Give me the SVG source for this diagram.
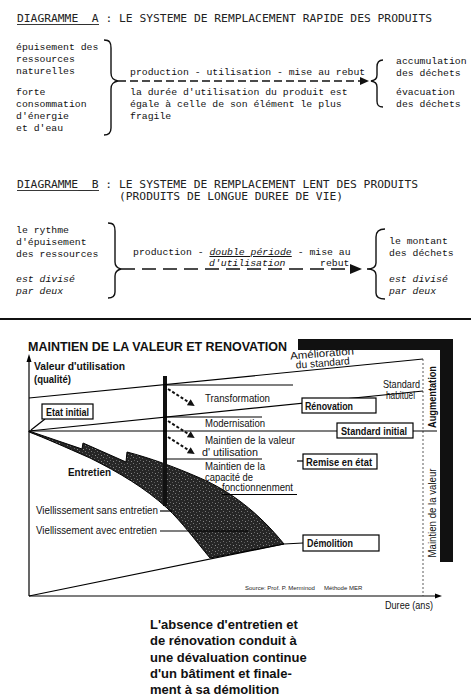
<svg xmlns="http://www.w3.org/2000/svg" width="471" height="699" viewBox="0 0 471 699">
<defs>
<style>
.tt{font-family:"DejaVu Sans Mono","Liberation Mono",monospace;font-size:11.3px;fill:#222}
.tw{font-family:"Liberation Mono","DejaVu Sans Mono",monospace;font-size:9.8px;fill:#111}
.it{font-style:italic}
.ln{stroke:#000;fill:none;stroke-width:1.2}
.br{stroke:#111;fill:none;stroke-width:1.4}
.c{font-family:"Liberation Sans Narrow","Liberation Sans",Arial,sans-serif;fill:#111;font-size:10.5px}
.cb{font-weight:bold}
.box{fill:#fff;stroke:#000;stroke-width:1.2}
.cap{font-family:"Liberation Sans",Arial,sans-serif;font-weight:bold;font-size:13px;fill:#111}
.dash{stroke:#111;stroke-width:1.5;fill:none}
.darr{stroke:#111;stroke-width:2;stroke-dasharray:3 2;fill:none}
.src{font-family:"Liberation Sans Narrow","Liberation Sans",Arial,sans-serif;fill:#222;font-size:6px}
</style>
<marker id="ah" viewBox="0 0 10 10" refX="2" refY="5" markerWidth="8" markerHeight="7" markerUnits="userSpaceOnUse" orient="auto">
<path d="M0,0 L10,5 L0,10 Z" fill="#111"/>
</marker>
<pattern id="speck" width="6" height="6" patternUnits="userSpaceOnUse">
<rect width="6" height="6" fill="#262626"/>
<rect x="1" y="1" width="1" height="1" fill="#777"/>
<rect x="4" y="2" width="1" height="1" fill="#5a5a5a"/>
<rect x="2" y="4" width="1" height="1" fill="#666"/>
<rect x="5" y="5" width="1" height="1" fill="#888"/>
</pattern>
</defs>
<rect width="471" height="699" fill="#fff"/>

<!-- Diagram A -->
<g id="titleA">
<text class="tt" x="17" y="22" textLength="415" lengthAdjust="spacingAndGlyphs">DIAGRAMME__A : LE SYSTEME DE REMPLACEMENT RAPIDE DES PRODUITS</text>
<line x1="17" y1="24.5" x2="99" y2="24.5" stroke="#222" stroke-width="0.9"/>
</g>
<g id="A-left">
<text class="tw" x="16" y="50">épuisement des</text>
<text class="tw" x="16" y="62">ressources</text>
<text class="tw" x="16" y="74">naturelles</text>
<text class="tw" x="16" y="95">forte</text>
<text class="tw" x="16" y="107">consommation</text>
<text class="tw" x="16" y="119">d'énergie</text>
<text class="tw" x="16" y="131">et d'eau</text>
</g>
<g id="A-middle">
<text class="tw" x="130" y="75">production - utilisation - mise au rebut</text>
<text class="tw" x="130" y="95">la durée d'utilisation du produit est</text>
<text class="tw" x="130" y="107">égale à celle de son élément le plus</text>
<text class="tw" x="130" y="119">fragile</text>
</g>
<g id="A-right">
<text class="tw" x="396" y="64">accumulation</text>
<text class="tw" x="396" y="76">des déchets</text>
<text class="tw" x="396" y="95">évacuation</text>
<text class="tw" x="396" y="107">des déchets</text>
</g>

<!-- Diagram B -->
<g id="titleB">
<text class="tt" x="17" y="188" textLength="401" lengthAdjust="spacingAndGlyphs">DIAGRAMME__B : LE SYSTEME DE REMPLACEMENT LENT DES PRODUITS</text>
<text class="tt" x="119" y="200" textLength="224" lengthAdjust="spacingAndGlyphs">(PRODUITS DE LONGUE DUREE DE VIE)</text>
<line x1="17" y1="190.5" x2="99" y2="190.5" stroke="#222" stroke-width="0.9"/>
</g>
<g id="B-left">
<text class="tw" x="16" y="233">le rythme</text>
<text class="tw" x="16" y="245">d'épuisement</text>
<text class="tw" x="16" y="257">des ressources</text>
<text class="tw it" x="16" y="282">est divisé</text>
<text class="tw it" x="16" y="294">par deux</text>
</g>
<g id="B-middle">
<text class="tw" x="133" y="255">production - <tspan class="it" text-decoration="underline">double période</tspan> - mise au</text>
<text class="tw it" x="209" y="266">d'utilisation</text>
<text class="tw" x="320" y="266">rebut</text>
</g>
<g id="B-right">
<text class="tw" x="389" y="244">le montant</text>
<text class="tw" x="389" y="256">des déchets</text>
<text class="tw it" x="389" y="282">est divisé</text>
<text class="tw it" x="389" y="294">par deux</text>
</g>

<g id="connectors-top">
<path class="br" d="M104,40 C110,40 111,43 111,48 L111,73 C111,78 113,80 118,81 C113,82 111,84 111,89 L111,128 C111,133 109,135 104,135"/>
<path class="br" d="M383,60 C378,60 377,63 377,67 L377,75 C377,79 375,80 371,81 C375,82 377,83 377,87 L377,101 C377,105 378,107 383,107"/>
<line class="dash" x1="118" y1="81" x2="361" y2="81" stroke-dasharray="8 4"/>
<polygon points="360,77 369,81 360,85" fill="#111"/>
<path class="br" d="M108,223 C114,223 115,226 115,231 L115,262 C115,266 117,268 121,269 C117,270 115,272 115,276 L115,292 C115,296 113,298 108,298"/>
<path class="br" d="M385,229 C379,229 376,232 376,237 L376,263 C376,267 372,269 367,269 C372,269 376,271 376,275 L376,293 C376,297 379,299 385,299"/>
<line class="dash" x1="121" y1="269" x2="352" y2="269" stroke-dasharray="14 7"/>
<polygon points="350,264 362,269 350,274" fill="#111"/>
</g>

<line x1="0" y1="319" x2="471" y2="319" stroke="#111" stroke-width="2"/>

<!-- Chart -->
<g id="chart-title">
<text x="28" y="351" font-family="Liberation Sans, Arial, sans-serif" font-weight="bold" font-size="12.5" fill="#111" textLength="259" lengthAdjust="spacingAndGlyphs">MAINTIEN DE LA VALEUR ET RENOVATION</text>
<rect x="298" y="339" width="155" height="11" fill="#111"/>
<rect x="440" y="339" width="13" height="223" fill="#111"/>
</g>

<g id="axes">
<line class="ln" x1="29" y1="596" x2="29" y2="360" stroke-width="1.4"/>
<polygon points="26.5,362 29,354 31.5,362" fill="#000"/>
<line class="ln" x1="29" y1="596" x2="436" y2="596" stroke-width="1.6"/>
<polygon points="435,593.5 442,596 435,598.5" fill="#000"/>
<line x1="423" y1="359" x2="423" y2="596" stroke="#333" stroke-width="0.8" stroke-dasharray="2 2"/>
<text class="c cb" x="34" y="370" font-size="11" textLength="91" lengthAdjust="spacingAndGlyphs">Valeur d'utilisation</text>
<text class="c cb" x="34" y="383" font-size="11" textLength="37" lengthAdjust="spacingAndGlyphs">(qualité)</text>
<text class="c" x="385" y="609" font-size="10.5" textLength="48" lengthAdjust="spacingAndGlyphs">Duree (ans)</text>
</g>

<g id="band">
<path d="M29,431 L82,449 L83,443 L126,462 L127,452 C150,458 175,467 200,478 C230,491 258,512 284,544 L210,558 C195,540 182,522 167,508 C145,488 120,473 90,458 C65,447 45,438 29,432 Z" fill="url(#speck)" stroke="#000" stroke-width="1"/>
<rect x="163" y="376" width="4" height="130" fill="#111"/>
</g>

<g id="connectors">
<line class="ln" x1="29" y1="398" x2="423" y2="359"/>
<line class="ln" x1="29" y1="431" x2="423" y2="391"/>
<line class="ln" x1="29" y1="431" x2="437" y2="431"/>
<line class="ln" x1="166" y1="385" x2="293" y2="385"/>
<line class="ln" x1="166" y1="417" x2="262" y2="417"/>
<line class="ln" x1="166" y1="459" x2="262" y2="459"/>
<line class="ln" x1="222" y1="494.5" x2="297" y2="494.5"/>
<line class="ln" x1="297" y1="461" x2="303" y2="461"/>
<line class="ln" x1="31" y1="430" x2="45" y2="419" stroke-width="0.9"/>
<polyline class="ln" points="29,596 284,544 303,543"/>
<line class="ln" x1="160" y1="511" x2="172" y2="511" stroke-width="0.9"/>
<line class="ln" x1="160" y1="531" x2="248" y2="531" stroke-width="0.9"/>
<path class="darr" d="M168,389 L190,403" marker-end="url(#ah)"/>
<path class="darr" d="M168,421 L190,435" marker-end="url(#ah)"/>
<path class="darr" d="M168,437 L190,451" marker-end="url(#ah)"/>
</g>

<g id="etat-initial">
<rect class="box" x="42" y="404" width="51" height="15"/>
<text class="c cb" x="46" y="415.5" font-size="11" textLength="43" lengthAdjust="spacingAndGlyphs">Etat initial</text>
</g>
<g id="amelioration">
<g transform="rotate(-4.5 323 366)">
<text class="c" x="291" y="357" font-size="10" textLength="64" lengthAdjust="spacingAndGlyphs">Amélioration</text>
<text class="c" x="296" y="366.5" font-size="10" textLength="54" lengthAdjust="spacingAndGlyphs">du standard</text>
</g>
</g>
<g id="standard-habituel">
<text class="c" x="383" y="388" font-size="10" textLength="37" lengthAdjust="spacingAndGlyphs">Standard</text>
<text class="c" x="386" y="399" font-size="10" textLength="29" lengthAdjust="spacingAndGlyphs">habituel</text>
</g>
<g id="labels-mid">
<text class="c" x="205" y="402" textLength="65" lengthAdjust="spacingAndGlyphs">Transformation</text>
<text class="c" x="205" y="427" textLength="60" lengthAdjust="spacingAndGlyphs">Modernisation</text>
<text class="c" x="205" y="444" font-size="10" textLength="90" lengthAdjust="spacingAndGlyphs">Maintien de la valeur</text>
<text class="c" x="202" y="456" font-size="10" textLength="56" lengthAdjust="spacingAndGlyphs">d' utilisation</text>
<text class="c" x="205" y="470" font-size="8.8" textLength="60" lengthAdjust="spacingAndGlyphs">Maintien de la</text>
<text class="c" x="205" y="480.5" font-size="8.8" textLength="48" lengthAdjust="spacingAndGlyphs">capacité de</text>
<text class="c" x="222" y="491" font-size="8.8" textLength="71" lengthAdjust="spacingAndGlyphs">fonctionnenment</text>
</g>
<g id="renovation">
<rect class="box" x="302" y="398" width="74" height="15"/>
<text class="c cb" x="305" y="409.5" font-size="11" textLength="48" lengthAdjust="spacingAndGlyphs">Rénovation</text>
</g>
<g id="standard-initial">
<rect class="box" x="337" y="423" width="76" height="15"/>
<text class="c cb" x="341" y="434.5" font-size="11" textLength="66" lengthAdjust="spacingAndGlyphs">Standard initial</text>
</g>
<g id="remise">
<rect class="box" x="303" y="454" width="74" height="15"/>
<text class="c cb" x="306" y="465.5" font-size="11" textLength="66" lengthAdjust="spacingAndGlyphs">Remise en état</text>
</g>
<g id="demolition">
<rect class="box" x="303" y="535" width="76" height="16"/>
<text class="c cb" x="307" y="547" font-size="11" textLength="46" lengthAdjust="spacingAndGlyphs">Démolition</text>
</g>
<g id="entretien">
<text class="c cb" x="68" y="476" font-size="11" textLength="43" lengthAdjust="spacingAndGlyphs">Entretien</text>
<text class="c" x="36" y="514" textLength="122" lengthAdjust="spacingAndGlyphs">Viellissement sans entretien</text>
<text class="c" x="36" y="534" textLength="121" lengthAdjust="spacingAndGlyphs">Viellissement avec entretien</text>
</g>
<g id="side-labels">
<text class="c cb" x="435.5" y="397" transform="rotate(-90 435.5 397)" text-anchor="middle" font-size="10" textLength="62" lengthAdjust="spacingAndGlyphs">Augmentation</text>
<text class="c" x="435.5" y="513" transform="rotate(-90 435.5 513)" text-anchor="middle" font-size="10" textLength="89" lengthAdjust="spacingAndGlyphs">Maintien de la valeur</text>
</g>
<g id="source">
<text class="src" x="245" y="590">Source: Prof. P. Merminod<tspan dx="9">Méthode MER</tspan></text>
</g>

<g id="caption">
<text class="cap" x="150" y="629">L'absence d'entretien et</text>
<text class="cap" x="150" y="645">de rénovation conduit à</text>
<text class="cap" x="150" y="662">une dévaluation continue</text>
<text class="cap" x="150" y="678">d'un bâtiment et finale-</text>
<text class="cap" x="150" y="694">ment à sa démolition</text>
</g>
</svg>
